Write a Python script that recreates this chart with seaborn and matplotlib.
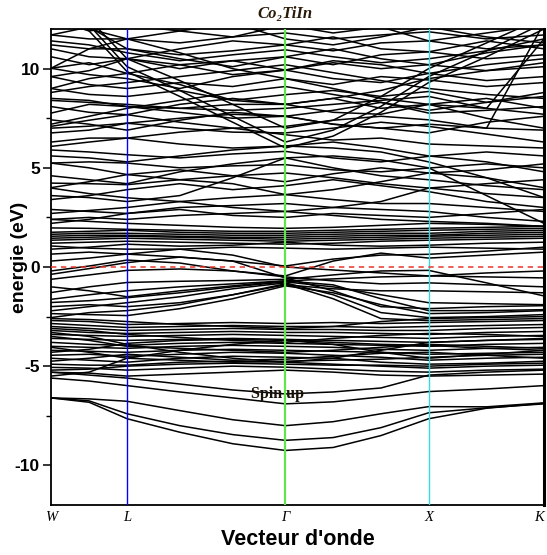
import numpy as np
import pandas as pd
import matplotlib
matplotlib.use("Agg")
import matplotlib.pyplot as plt
import seaborn as sns

# k-path: W, mid, L, 1/3, 2/3, Gamma, 1/3, 2/3, X, mid, K
k_nodes = [0.0, 0.266, 0.531, 0.899, 1.268, 1.636, 1.969, 2.303, 2.636, 3.040, 3.441]
sym_pos = [0.0, 0.531, 1.636, 2.636, 3.441]
sym_labels = ["W", "L", "Γ", "X", "K"]

# energies (eV) of each band at the k-nodes, relative to E_F
bands_deep = [
    [-6.6, -6.82, -7.65, -8.33, -8.91, -9.25, -9.1, -8.5, -7.65, -7.12, -6.87],
    [-6.6, -6.75, -7.40, -8.0, -8.45, -8.74, -8.6, -8.1, -7.35, -7.1, -6.9],
    [-6.6, -6.65, -6.77, -7.24, -7.7, -8.0, -7.8, -7.4, -7.04, -7.05, -6.85],
    [-5.6, -5.75, -5.98, -6.3, -6.6, -6.9, -6.8, -6.55, -6.28, -6.15, -5.98],
    [-5.3, -5.45, -5.6, -5.9, -6.2, -6.4, -6.3, -6.1, -5.45, -5.3, -5.2],
]

bands_semicore = [
    [-5.31, -5.35, -5.5, -5.4, -5.3, -5.2, -5.3, -5.45, -5.5, -5.45, -5.4],
    [-5.06, -5.1, -5.2, -5.1, -5.0, -5.05, -5.15, -5.25, -5.3, -5.2, -5.15],
    [-4.9, -4.95, -4.95, -4.8, -4.75, -4.8, -4.9, -5.0, -5.1, -5.0, -4.95],
    [-4.6, -4.7, -4.8, -4.6, -4.5, -4.55, -4.6, -4.8, -4.9, -4.85, -4.75],
    [-4.45, -4.4, -4.5, -4.4, -4.3, -4.35, -4.45, -4.55, -4.7, -4.6, -4.55],
    [-4.2, -4.25, -4.3, -4.2, -4.15, -4.2, -4.25, -4.3, -4.4, -4.35, -4.3],
    [-4.0, -4.05, -4.1, -4.0, -3.95, -4.0, -4.05, -4.15, -4.2, -4.1, -4.05],
    [-3.8, -3.9, -3.95, -3.85, -3.8, -3.85, -3.9, -3.95, -4.0, -3.9, -3.85],
    [-3.6, -3.65, -3.7, -3.65, -3.6, -3.65, -3.7, -3.75, -3.8, -3.7, -3.65],
    [-3.4, -3.45, -3.5, -3.45, -3.4, -3.45, -3.5, -3.55, -3.6, -3.5, -3.45],
    [-3.2, -3.3, -3.35, -3.3, -3.25, -3.3, -3.3, -3.35, -3.4, -3.3, -3.25],
    [-3.0, -3.1, -3.2, -3.15, -3.1, -3.15, -3.15, -3.2, -3.2, -3.1, -3.05],
    [-2.85, -2.95, -3.05, -3.0, -2.95, -3.0, -3.0, -3.05, -3.0, -2.95, -2.9],
    [-2.7, -2.75, -2.9, -2.85, -2.8, -2.85, -2.8, -2.85, -2.8, -2.75, -2.7],
    [-5.5, -5.3, -4.6, -4.2, -3.9, -3.7, -3.9, -4.3, -4.6, -4.4, -4.2],
    [-3.3, -3.5, -3.9, -4.3, -4.6, -4.8, -4.6, -4.2, -3.8, -3.7, -3.6],
    [-2.6, -2.65, -2.75, -2.9, -3.0, -3.1, -3.0, -2.75, -2.6, -2.55, -2.5],
    [-4.75, -4.6, -4.4, -4.55, -4.7, -4.65, -4.5, -4.35, -4.3, -4.45, -4.6],
    [-3.5, -3.7, -4.0, -4.1, -4.2, -4.3, -4.2, -4.05, -3.9, -4.0, -4.1],
    [-5.2, -5.15, -5.0, -4.9, -4.85, -4.9, -4.95, -4.95, -5.0, -4.9, -4.85],
    [-4.3, -4.15, -3.85, -3.7, -3.65, -3.7, -3.8, -3.9, -3.95, -4.1, -4.2],
    [-3.1, -3.2, -3.4, -3.55, -3.7, -3.8, -3.6, -3.45, -3.35, -3.4, -3.5],
    [-4.05, -4.3, -4.6, -4.7, -4.8, -4.75, -4.7, -4.65, -4.55, -4.45, -4.4],
]

bands_fermi = [
    [-0.37, -0.08, 0.22, 0.5, 0.3, -0.55, -1.2, -2.0, -2.1, -2.0, -1.95],
    [-0.62, -0.4, -0.17, -0.1, -0.2, -0.45, 0.3, 0.7, 0.45, 0.6, 0.75],
    [-1.29, -1.0, -0.78, -0.72, -0.68, -0.62, -0.4, -0.2, -0.17, -0.8, -1.46],
    [-1.63, -1.4, -1.2, -1.0, -0.85, -0.7, -0.6, -0.5, -0.45, -0.5, -0.55],
    [-1.79, -1.7, -1.55, -1.3, -1.0, -0.75, -1.0, -1.4, -1.8, -1.85, -1.9],
    [-2.21, -2.0, -1.8, -1.5, -1.1, -0.8, -1.4, -2.3, -2.55, -2.5, -2.4],
    [-2.55, -2.3, -2.2, -1.9, -1.4, -0.85, -1.6, -2.6, -2.7, -2.65, -2.6],
    [-0.2, 0.05, 0.35, 0.2, -0.2, -0.5, -0.7, -0.85, -0.8, -0.9, -1.0],
    [0.3, 0.45, 0.65, 0.9, 0.6, 0.0, -0.15, -0.3, -0.45, -0.3, -0.2],
    [0.65, 0.75, 0.65, 0.5, 0.3, 0.05, 0.4, 0.6, 0.64, 0.8, 1.0],
    [1.06, 0.95, 0.9, 0.9, 1.0, 0.95, 0.9, 0.95, 1.0, 0.95, 0.9],
    [-2.0, -1.9, -2.0, -1.8, -1.4, -0.9, -1.1, -1.2, -1.2, -1.25, -1.3],
    [-1.0, -1.2, -1.5, -1.2, -0.95, -0.7, -0.9, -1.6, -2.2, -2.2, -2.15],
    [-2.35, -2.4, -2.45, -2.1, -1.6, -0.95, -1.3, -1.9, -2.35, -2.3, -2.2],
]

bands_d = [
    [1.2, 1.25, 1.3, 1.25, 1.2, 1.15, 1.2, 1.3, 1.35, 1.4, 1.45],
    [1.35, 1.4, 1.45, 1.4, 1.35, 1.3, 1.35, 1.4, 1.45, 1.5, 1.55],
    [1.45, 1.5, 1.55, 1.5, 1.45, 1.4, 1.45, 1.5, 1.55, 1.6, 1.65],
    [1.55, 1.6, 1.6, 1.55, 1.5, 1.5, 1.55, 1.6, 1.6, 1.7, 1.75],
    [1.65, 1.7, 1.7, 1.65, 1.6, 1.6, 1.65, 1.7, 1.7, 1.8, 1.85],
    [1.75, 1.8, 1.85, 1.75, 1.7, 1.7, 1.75, 1.8, 1.85, 1.9, 1.95],
    [1.97, 1.95, 1.9, 1.85, 1.8, 1.8, 1.85, 1.9, 1.95, 2.0, 2.05],
    [2.4, 2.3, 2.2, 2.1, 2.0, 1.95, 2.0, 2.1, 2.2, 2.15, 2.05],
    [0.9, 1.0, 1.15, 1.05, 1.1, 1.25, 1.1, 1.05, 1.1, 1.2, 1.25],
]

bands_mid = [
    [2.4, 2.5, 2.4, 2.6, 2.7, 2.8, 2.6, 2.4, 2.3, 2.2, 2.05],
    [2.9, 2.8, 2.7, 3.0, 3.1, 3.2, 3.0, 2.9, 2.8, 2.5, 2.3],
    [2.7, 2.85, 3.0, 3.3, 3.5, 3.65, 3.4, 3.2, 3.2, 3.0, 2.8],
    [3.98, 3.7, 3.49, 3.3, 3.0, 2.8, 3.0, 3.3, 3.98, 3.7, 3.5],
    [4.23, 4.2, 4.15, 4.4, 4.6, 4.74, 4.5, 4.2, 3.98, 4.2, 4.4],
    [5.24, 5.0, 4.66, 4.4, 4.2, 3.65, 3.9, 4.3, 4.74, 4.5, 4.0],
    [5.24, 5.3, 5.24, 5.0, 5.1, 5.16, 4.9, 4.8, 4.99, 5.2, 5.0],
    [5.9, 5.8, 5.66, 5.5, 5.7, 5.83, 5.5, 5.3, 5.58, 5.8, 5.6],
    [6.08, 6.3, 6.5, 6.2, 6.0, 6.1, 6.0, 5.8, 5.3, 4.5, 3.5],
    [3.6, 3.5, 3.3, 3.6, 4.5, 5.5, 5.6, 5.4, 5.0, 3.6, 2.2],
    [3.4, 3.6, 3.9, 4.2, 3.9, 4.1, 4.4, 4.1, 3.8, 3.3, 3.0],
    [4.6, 4.4, 4.2, 4.8, 5.2, 5.5, 5.0, 4.6, 4.4, 4.1, 3.9],
    [5.6, 5.5, 5.3, 5.6, 5.9, 6.1, 6.3, 6.0, 5.6, 5.3, 4.8],
    [4.0, 4.3, 4.66, 4.9, 4.6, 4.3, 4.7, 5.0, 4.74, 4.9, 5.2],
    [2.2, 2.4, 2.7, 2.9, 2.6, 2.5, 2.7, 2.6, 2.5, 2.7, 2.9],
]

bands_high = [
    [6.76, 6.9, 7.25, 7.0, 6.8, 6.76, 7.0, 7.3, 7.09, 6.7, 6.3],
    [7.09, 7.4, 7.68, 7.3, 7.0, 7.09, 7.4, 7.6, 7.42, 7.0, 6.9],
    [7.42, 7.2, 6.9, 7.4, 7.8, 7.6, 7.2, 7.0, 6.76, 7.3, 7.6],
    [7.76, 8.2, 8.09, 7.8, 7.5, 7.6, 7.9, 8.3, 7.76, 7.9, 8.09],
    [8.09, 7.8, 7.68, 8.2, 8.5, 8.2, 8.5, 8.0, 8.2, 8.5, 8.0],
    [9.0, 8.7, 8.6, 8.9, 8.4, 8.69, 8.9, 8.6, 8.85, 8.3, 8.8],
    [9.6, 9.2, 9.0, 9.3, 9.1, 9.5, 9.2, 9.6, 9.43, 9.1, 9.3],
    [10.02, 9.7, 9.5, 9.0, 9.6, 9.93, 9.5, 9.3, 9.76, 9.4, 9.6],
    [10.02, 10.3, 9.76, 10.2, 10.4, 9.93, 10.3, 10.0, 10.2, 9.9, 10.1],
    [10.6, 10.2, 10.5, 10.0, 10.4, 10.6, 10.2, 10.7, 10.85, 10.5, 10.7],
    [11.2, 11.0, 11.0, 10.7, 10.9, 11.2, 10.9, 11.3, 11.4, 11.0, 11.2],
    [11.7, 11.5, 11.5, 11.3, 11.6, 11.8, 11.5, 11.7, 11.86, 11.5, 11.7],
    [14.0, 11.9, 9.85, 8.6, 7.3, 6.0, 6.6, 7.8, 9.3, 10.6, 12.0],
    [14.5, 12.2, 10.1, 8.9, 7.6, 6.3, 6.9, 8.1, 9.6, 10.9, 12.3],
    [13.5, 12.5, 10.5, 9.4, 8.2, 7.0, 7.4, 8.6, 10.0, 11.3, 12.6],
    [10.02, 11.0, 11.5, 10.8, 10.0, 9.5, 9.0, 8.5, 8.2, 7.5, 7.0],
    [9.0, 9.5, 9.76, 9.2, 8.4, 8.2, 8.5, 8.9, 9.5, 9.9, 10.3],
    [11.7, 12.1, 11.0, 10.5, 10.1, 10.6, 11.0, 10.5, 10.2, 10.8, 11.2],
    [7.0, 7.1, 7.25, 7.5, 7.7, 7.6, 7.2, 7.0, 7.2, 7.0, 12.3],
    [8.4, 8.3, 8.2, 8.0, 7.9, 8.0, 8.2, 8.4, 8.6, 8.0, 11.5],
    [6.3, 6.5, 6.5, 6.8, 7.0, 6.67, 6.4, 6.5, 6.2, 6.1, 6.0],
    [8.5, 8.4, 8.09, 8.0, 8.2, 8.2, 7.8, 7.7, 8.2, 8.0, 7.7],
    [11.0, 10.6, 10.5, 11.0, 11.4, 11.2, 11.6, 11.0, 10.85, 11.4, 11.0],
    [12.5, 11.9, 12.2, 11.9, 11.6, 12.2, 11.8, 12.1, 11.4, 11.8, 12.2],
    [9.6, 9.9, 10.5, 10.2, 9.7, 9.93, 10.4, 10.2, 9.76, 10.2, 10.5],
    [12.3, 12.0, 11.5, 11.9, 12.3, 11.5, 11.2, 11.6, 12.1, 11.6, 11.3],
    [8.8, 9.1, 9.3, 9.6, 9.9, 10.2, 9.8, 9.4, 9.0, 8.7, 8.5],
    [7.2, 7.6, 8.0, 8.4, 8.8, 9.1, 8.7, 8.3, 7.9, 8.3, 8.6],
    [11.4, 11.2, 10.8, 10.4, 10.7, 10.95, 10.6, 10.3, 10.5, 10.9, 11.5],
]

groups = [bands_deep, bands_semicore, bands_fermi, bands_d, bands_mid, bands_high]
rows = []
band_id = 0
for grp in groups:
    for band in grp:
        for k, e in zip(k_nodes, band):
            rows.append({"k": k, "E": e, "band": band_id})
        band_id += 1
df = pd.DataFrame(rows)

sns.set_theme(style="white")
plt.rcParams["font.family"] = ["Liberation Sans", "DejaVu Sans"]
plt.rcParams.update({"text.color": "black", "axes.labelcolor": "black",
                     "xtick.color": "black", "ytick.color": "black"})

fig = plt.figure(figsize=(5.47, 5.55), dpi=100)
ax = fig.add_axes([51 / 547, 1 - 505 / 555, 493 / 547, 476 / 555])

sns.lineplot(data=df, x="k", y="E", units="band", estimator=None, sort=False,
             color="black", linewidth=1.1, legend=False, ax=ax)

# high-symmetry verticals
ax.axvline(sym_pos[1], color="#0000ff", lw=1.0, zorder=3)
ax.axvline(sym_pos[2], color="#5ee64a", lw=1.6, zorder=3)
ax.axvline(sym_pos[3], color="#33dddd", lw=1.0, zorder=3)
# Fermi level
ax.axhline(0, color="#e8362e", lw=1.1, ls=(0, (3.5, 3)), zorder=4)

ax.set_xlim(sym_pos[0], sym_pos[-1])
ax.set_ylim(-12, 12)
ax.set_yticks([-10, -5, 0, 5, 10])
ax.set_yticklabels(["-10", "-5", "0", "5", "10"], fontsize=12.5, fontweight="bold")
ax.set_yticks([-7.5, -2.5, 2.5, 7.5], minor=True)
ax.tick_params(axis="y", which="major", direction="out", length=6, width=1.1,
               left=True, pad=2, colors="black")
ax.tick_params(axis="y", which="minor", direction="out", length=3.5, width=1.0,
               left=True, colors="black")
ax.set_xticks(sym_pos)
ax.set_xticklabels(sym_labels, fontsize=10.5, fontstyle="italic",
                   family=["Liberation Serif", "DejaVu Serif"])
ax.tick_params(axis="x", length=0, pad=4, colors="black")
ax.get_xticklabels()[-1].set_horizontalalignment("right")

for s in ax.spines.values():
    s.set_color("black")
    s.set_linewidth(1.3)
ax.spines["right"].set_linewidth(2.2)

ax.set_xlabel("Vecteur d'onde", fontsize=15.5, fontweight="bold", labelpad=4,
              color="black")
ax.set_ylabel("energie (eV)", fontsize=14, fontweight="bold", labelpad=0,
              color="black")
ax.yaxis.set_label_coords(-0.046, 0.52)

ax.text(1.58, -6.4, "Spin up", fontsize=11.5, fontweight="bold",
        family=["Liberation Serif", "DejaVu Serif"], color="#1a1208",
        ha="center", va="center", zorder=5)

fig.text(285 / 547, 1 - 14 / 555, "Co₂TiIn", fontsize=12, fontstyle="italic",
         fontweight="bold", family=["Liberation Serif", "DejaVu Serif"],
         color="#2a1a08", ha="center", va="center")

fig.savefig("out.png", dpi=100, facecolor="white")
